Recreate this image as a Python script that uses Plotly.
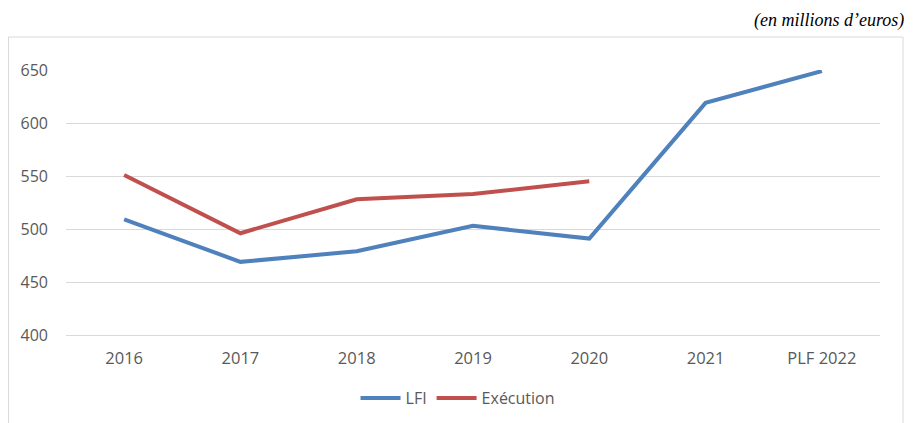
import plotly.graph_objects as go

categories = ["2016", "2017", "2018", "2019", "2020", "2021", "PLF 2022"]
lfi = [509, 469, 479, 503, 491, 619, 649]
execution = [551, 496, 528, 533, 545, None, None]
y_ticks = [400, 450, 500, 550, 600, 650]

# page has an 8px body margin; figure coordinates are page coordinates - 8
W, H = 905, 415
L, R, T, B = 58, 872, 62, 327  # plot area pixels (figure coords)

fig = go.Figure()
fig.add_trace(go.Scatter(x=categories, y=lfi, name="LFI", mode="lines",
                         line=dict(color="#4f81bd", width=4)))
fig.add_trace(go.Scatter(x=categories, y=execution, name="Exécution", mode="lines",
                         line=dict(color="#c0504d", width=4)))

def px_x(p):
    return (p - L) / (R - L)

def px_y(p):
    return (B - p) / (B - T)

fig.add_shape(type="rect", xref="paper", yref="paper",
              x0=px_x(0.5), x1=px_x(895), y0=px_y(440), y1=px_y(29),
              line=dict(color="#d9d9d9", width=1), fillcolor="rgba(0,0,0,0)", layer="below")

fig.add_annotation(text="<i>(en millions d’euros)</i>", xref="paper", yref="paper",
                   x=px_x(898), y=px_y(12), xanchor="right", yanchor="middle",
                   showarrow=False, font=dict(family="Liberation Serif", size=18, color="#000000"))

fig.update_layout(
    width=W, height=H,
    margin=dict(l=L, r=W - R, t=T, b=H - B, autoexpand=False),
    paper_bgcolor="white", plot_bgcolor="white",
    font=dict(family="Open Sans", size=16, color="#595959"),
    showlegend=True,
    legend=dict(orientation="h", x=0.481, xanchor="center", y=px_y(390), yanchor="middle",
                font=dict(size=16, color="#595959"), itemwidth=40, tracegroupgap=0),
    xaxis=dict(type="category", range=[-0.5, 6.5], showgrid=False, showline=True,
               linecolor="#d9d9d9", linewidth=1, ticks="", automargin=False,
               ticklabelstandoff=8, tickfont=dict(size=16.5, color="#595959")),
    yaxis=dict(range=[400, 650], tickvals=y_ticks, showgrid=True, gridcolor="#d9d9d9",
               gridwidth=1, zeroline=False, showline=False, ticks="", automargin=False,
               ticklabelstandoff=17, tickfont=dict(size=16, color="#595959")),
)

fig.write_html("out.html")
